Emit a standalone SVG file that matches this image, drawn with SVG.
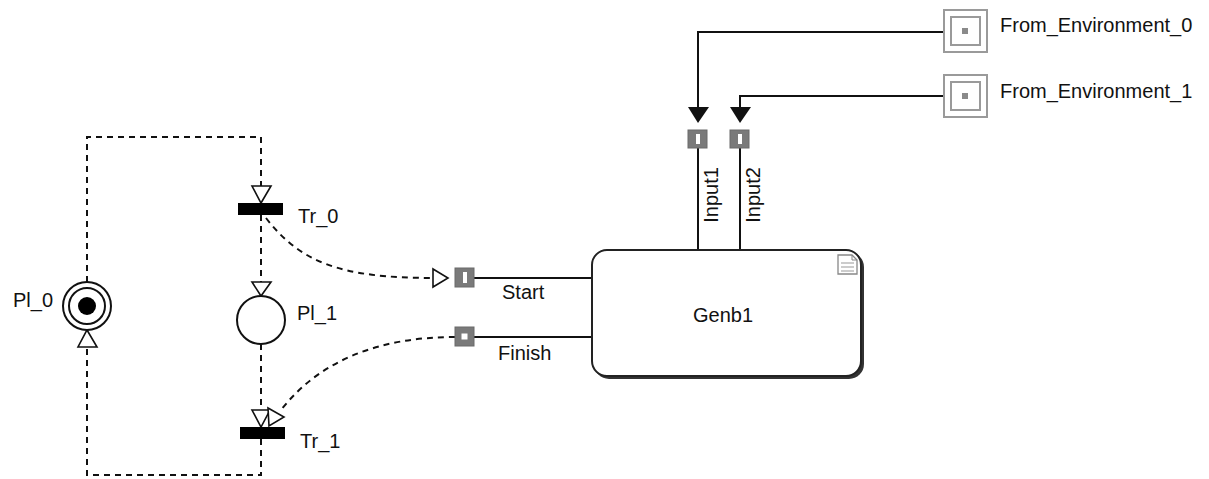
<svg xmlns="http://www.w3.org/2000/svg" width="1209" height="479" viewBox="0 0 1209 479">
<style>
 .t{font-family:"Liberation Sans",Arial,sans-serif;font-size:20px;fill:#111}
 .dash{fill:none;stroke:#111;stroke-width:2;stroke-dasharray:6 5}
 .solid{fill:none;stroke:#111;stroke-width:2}
 .oa{fill:#fff;stroke:#111;stroke-width:1.6}
 .fa{fill:#111;stroke:none}
 .bar{fill:#000}
 .place{fill:#fff;stroke:#111;stroke-width:2}
 .port{fill:#7a7a7a;stroke:#6a6a6a;stroke-width:1}
 .pin{fill:#fff}
 .env{fill:#fff;stroke:#9a9a9a;stroke-width:2}
</style>
<rect width="1209" height="479" fill="#fff"/>
<g id="connectors">
 <path class="dash" d="M87 282 V137 H261 V186"/>
 <path class="dash" d="M261 215 V282"/>
 <path class="dash" d="M261 344 V410"/>
 <path class="dash" d="M261 439 V475 H87 V347"/>
 <path class="dash" d="M266 218 C300 262 340 278 433 278"/>
 <path class="dash" d="M455 337 C380 337 320 360 281 410"/>
 <path class="solid" d="M474 278 H592"/>
 <path class="solid" d="M474 337 H592"/>
 <path class="solid" d="M698 148 V250"/>
 <path class="solid" d="M740 148 V250"/>
 <path class="solid" d="M944 32 H698 V107"/>
 <path class="solid" d="M944 96 H740 V107"/>
 <polygon class="oa" points="252,186 271,186 261,203"/>
 <polygon class="oa" points="252,282 271,282 261,296"/>
 <polygon class="oa" points="252,410 270,410 261,427"/>
 <polygon class="oa" points="78,347 97,347 87,330"/>
 <polygon class="oa" points="433,269 433,287 448,278"/>
 <polygon class="oa" points="268,408 269,426 284,417"/>
 <polygon class="fa" points="688,107 709,107 698,123"/>
 <polygon class="fa" points="730,107 751,107 740,123"/>
</g>
<g id="Pl_0">
 <circle class="place" cx="87" cy="306" r="24"/>
 <circle class="place" cx="87" cy="306" r="18"/>
 <circle cx="87" cy="306" r="9" fill="#000"/>
 <text class="t" x="13" y="307">Pl_0</text>
</g>
<g id="Tr_0">
 <rect class="bar" x="238" y="203" width="45" height="12"/>
 <text class="t" x="298" y="223">Tr_0</text>
</g>
<g id="Pl_1">
 <circle class="place" cx="261" cy="320" r="24"/>
 <text class="t" x="297" y="320">Pl_1</text>
</g>
<g id="Tr_1">
 <rect class="bar" x="240" y="427" width="45" height="12"/>
 <text class="t" x="300" y="448">Tr_1</text>
</g>
<g id="Genb1">
 <rect x="594" y="252" width="270" height="127" rx="15" fill="#333"/>
 <rect x="592" y="250" width="269" height="126" rx="15" fill="#fff" stroke="#222" stroke-width="2"/>
 <path d="M838 255 H852 L857 260 V274 H838 Z" fill="#fff" stroke="#888" stroke-width="1.3"/>
 <path d="M852 255 V260 H857" fill="none" stroke="#888" stroke-width="1"/>
 <path d="M841 263 H854 M841 267 H854 M841 271 H854" stroke="#999" stroke-width="1"/>
 <text class="t" x="723" y="322" text-anchor="middle">Genb1</text>
</g>
<g id="Start">
 <rect class="port" x="455" y="268" width="19" height="19"/>
 <rect class="pin" x="463" y="272" width="4" height="11"/>
 <text class="t" x="502" y="299">Start</text>
</g>
<g id="Finish">
 <rect class="port" x="455" y="327" width="19" height="19"/>
 <rect class="pin" x="461.5" y="333.5" width="6" height="6"/>
 <text class="t" x="498" y="360">Finish</text>
</g>
<g id="Input1">
 <rect class="port" x="688" y="130" width="19" height="18"/>
 <rect class="pin" x="696" y="134" width="4" height="10"/>
 <text class="t" transform="translate(718 195) rotate(-90)" text-anchor="middle">Input1</text>
</g>
<g id="Input2">
 <rect class="port" x="730" y="130" width="19" height="18"/>
 <rect class="pin" x="738" y="134" width="4" height="10"/>
 <text class="t" transform="translate(760 195) rotate(-90)" text-anchor="middle">Input2</text>
</g>
<g id="From_Environment_0">
 <rect class="env" x="944" y="10" width="43" height="42"/>
 <rect class="env" x="951" y="17" width="29" height="28" stroke-width="1.5"/>
 <rect x="962" y="28" width="6" height="6" fill="#8a8a8a"/>
 <text class="t" x="1000" y="32">From_Environment_0</text>
</g>
<g id="From_Environment_1">
 <rect class="env" x="944" y="75" width="43" height="42"/>
 <rect class="env" x="951" y="82" width="29" height="28" stroke-width="1.5"/>
 <rect x="962" y="93" width="6" height="6" fill="#8a8a8a"/>
 <text class="t" x="1000" y="98">From_Environment_1</text>
</g>
</svg>
